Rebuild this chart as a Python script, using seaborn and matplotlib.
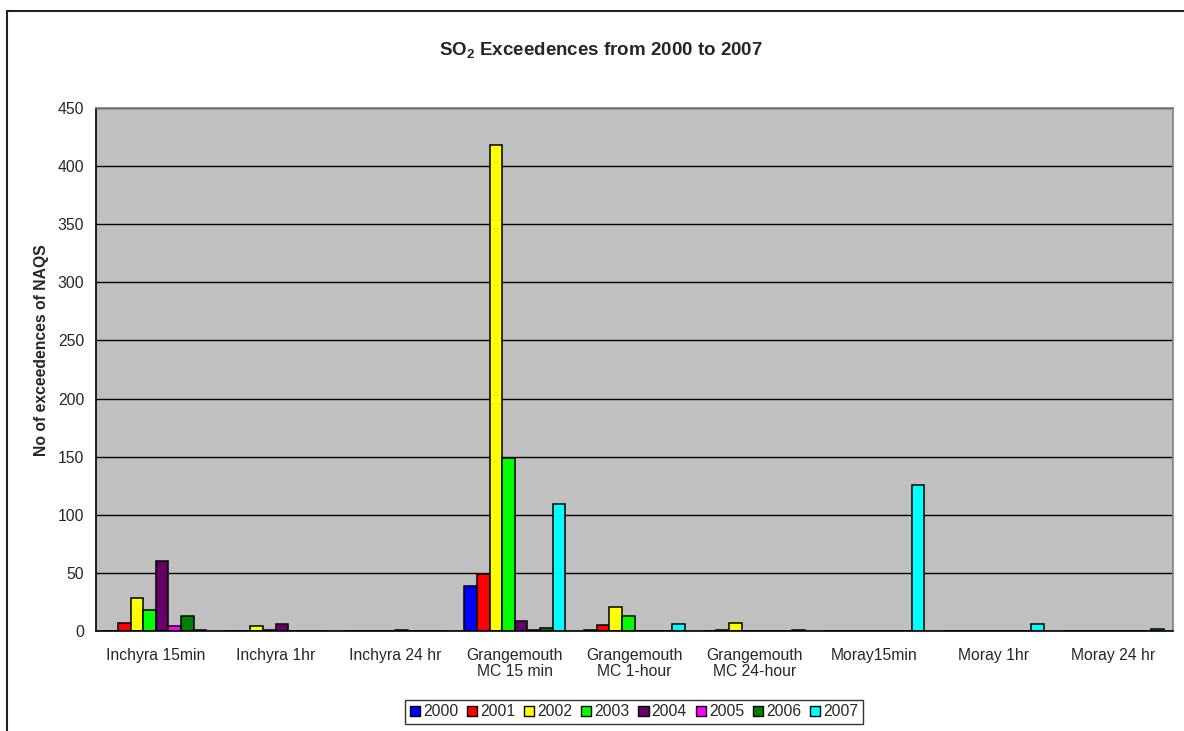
import matplotlib
matplotlib.use("Agg")
import matplotlib.pyplot as plt
import seaborn as sns
import pandas as pd
from matplotlib.patches import Rectangle, Patch

categories = ["Inchyra 15min", "Inchyra 1hr", "Inchyra 24 hr", "Grangemouth\nMC 15 min",
              "Grangemouth\nMC 1-hour", "Grangemouth\nMC 24-hour", "Moray15min",
              "Moray 1hr", "Moray 24 hr"]
years = ["2000", "2001", "2002", "2003", "2004", "2005", "2006", "2007"]
v2000 = [0, 0, 0, 39, 1, 0, 0, 0, 0]
v2001 = [7, 0, 0, 49, 5, 1, 0, 0, 0]
v2002 = [28, 4, 0, 418, 21, 7, 0, 0, 0]
v2003 = [18, 1, 0, 149, 13, 0, 0, 0, 0]
v2004 = [60, 6, 1, 9, 0, 0, 0, 0, 0]
v2005 = [4, 0, 0, 1, 0, 0, 0, 0, 0]
v2006 = [13, 0, 0, 3, 0, 0, 0, 0, 0]
v2007 = [1, 0, 0, 109, 6, 1, 126, 6, 2]
series = [v2000, v2001, v2002, v2003, v2004, v2005, v2006, v2007]
colors = ["#0000FF", "#FF0000", "#FFFF00", "#00FF00", "#660066", "#FF00FF", "#008000", "#00FFFF"]

rows = []
for y, vals in zip(years, series):
    for c, v in zip(categories, vals):
        rows.append({"Site": c, "Year": y, "Count": v})
df = pd.DataFrame(rows)

sns.set_style("white")
plt.rcParams["font.family"] = ["Liberation Sans", "DejaVu Sans"]
plt.rcParams["mathtext.fontset"] = "custom"
plt.rcParams["mathtext.rm"] = "Liberation Sans"
plt.rcParams["mathtext.bf"] = "Liberation Sans:bold"

FS = 11.3
W, H = 1184, 731
fig = plt.figure(figsize=(W / 100, H / 100), dpi=100)
fig.patch.set_facecolor("white")
L, R, T, B = 96, 1173, 108, 631
ax = fig.add_axes([L / W, 1 - B / H, (R - L) / W, (B - T) / H])

sns.barplot(data=df, x="Site", y="Count", hue="Year", order=categories, hue_order=years,
            palette=colors, width=8 / 9.5, gap=0, edgecolor="black", linewidth=1.1,
            saturation=1, ax=ax, legend=False, errorbar=None)

ax.set_facecolor("#C0C0C0")
ax.set_xlim(-0.5, len(categories) - 0.5)
ax.set_ylim(0, 450)
ax.set_yticks(range(0, 451, 50))
ax.yaxis.grid(True, color="black", linewidth=1.0)
ax.set_axisbelow(True)
ax.set_xlabel("")
ax.set_ylabel("No of exceedences of NAQS", fontsize=FS, fontweight="bold")
ax.yaxis.set_label_coords((49 - L) / (R - L), (B - 350) / (B - T))

ax.set_xticks(range(len(categories)))
ax.set_xticklabels(categories, fontsize=FS, linespacing=1.15)
ax.set_xticks([i - 0.5 for i in range(len(categories) + 1)], minor=True)
ax.tick_params(axis="x", which="major", length=0, pad=12)
ax.tick_params(axis="x", which="minor", length=4, width=1, color="black", direction="out")
ax.tick_params(axis="y", length=4.5, width=1, color="black", direction="out", labelsize=FS, pad=4)

ax.spines["left"].set_color("black")
ax.spines["bottom"].set_color("black")
ax.spines["top"].set_color("#808080")
ax.spines["right"].set_color("#808080")
for s in ax.spines.values():
    s.set_linewidth(1.2)
    s.set_visible(True)

fig.text(601 / W, 1 - 51 / H, r"SO$_\mathbf{2}$ Exceedences from 2000 to 2007",
         ha="center", va="center", fontsize=13.5, fontweight="bold")

handles = [Patch(facecolor=c, edgecolor="black", linewidth=1.0, label=y) for c, y in zip(colors, years)]
leg = fig.legend(handles=handles, ncol=8, loc="center", bbox_to_anchor=(634 / W, 1 - 712 / H),
                 fontsize=FS, frameon=True, fancybox=False, handlelength=0.65, handleheight=0.65,
                 handletextpad=0.2, columnspacing=0.55, borderpad=0.3, borderaxespad=0)
leg.get_frame().set_edgecolor("black")
leg.get_frame().set_linewidth(1.0)

fig.patches.append(Rectangle((7 / W, -0.05), 1.1, 1 - 11 / H + 0.05, transform=fig.transFigure,
                             fill=False, edgecolor="#222222", linewidth=1.5))

fig.savefig("out.png", dpi=100)
